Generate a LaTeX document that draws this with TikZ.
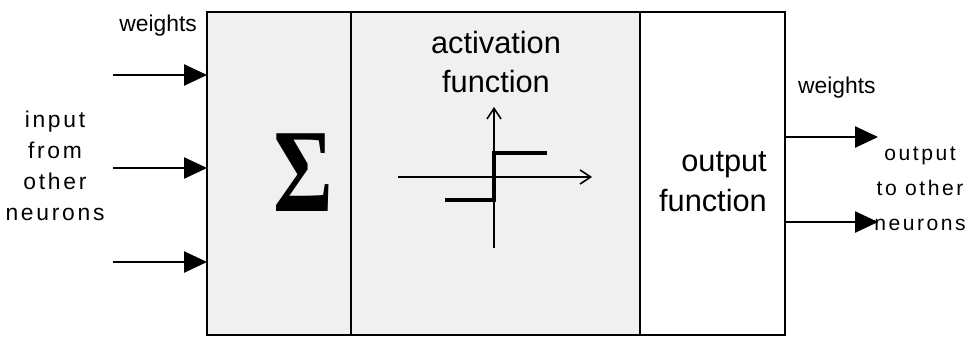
\documentclass[tikz,border=0pt]{standalone}
\usepackage{fontspec}
\setmainfont{Liberation Sans}
\newfontfamily\spacedfont[LetterSpace=12]{Liberation Sans}
\newfontfamily\sigmafont{Liberation Serif}
\usetikzlibrary{arrows.meta}

\begin{document}
\begin{tikzpicture}[
x={(0.02cm,0cm)}, y={(0cm,-0.02cm)},
% #region Picture settings %
panel/.style={draw, line width=1pt, inner sep=0pt, outer sep=0pt, minimum height=6.46cm, anchor=north west},
weightarrow/.style={-{Triangle[length=13pt, width=12pt]}, line width=1pt},
axis/.style={-{Straight Barb[length=6pt, width=8pt]}, line width=0.9pt},
smalltext/.style={font=\fontsize{13}{15}\selectfont},
spacedtext/.style={font=\spacedfont\fontsize{13}{17.6}\selectfont, align=center},
rightspaced/.style={font=\spacedfont\fontsize{12}{20}\selectfont, align=center},
bigtext/.style={font=\fontsize{17.5}{22.7}\selectfont},
% #endregion Picture settings %
]

\useasboundingbox (0,0) rectangle (973,345);

\node[panel, fill=gray!12, minimum width=2.88cm] (sumbox) at (207,12) {};
\node[panel, fill=gray!12, minimum width=5.78cm] (actbox) at (sumbox.north east) {};
\node[panel, fill=white, minimum width=2.9cm] (outbox) at (actbox.north east) {};

\node[smalltext, anchor=base east] (wleft) at (203,31) {weights};
\node[spacedtext] (input) at (55,166) {input\\from\\other\\neurons};
\node[font=\sigmafont\bfseries\fontsize{52}{52}\selectfont, inner sep=0pt, yscale=1.3] (sigma) at (303,173) {Σ};
\node[bigtext, align=center] (acttext) at (496,62) {activation\\function};
\node[bigtext, align=right, anchor=east] (outtext) at (773,182) {output\\function};
\node[smalltext, anchor=base west] (wright) at (792,93) {weights};
\node[rightspaced] (output) at (920,189) {output\\to other\\neurons};

\foreach \y [count=\i] in {75,168,262} {
  \coordinate (in\i) at (113,\y);
  \draw[weightarrow] (in\i) -- (in\i -| sumbox.west);
}
\foreach \y [count=\i] in {137,222} {
  \coordinate (out\i) at (878,\y);
  \draw[weightarrow] (outbox.east |- out\i) -- (out\i);
}

\coordinate (xleft) at (398,177);
\coordinate (xright) at (592,177);
\coordinate (ybottom) at (494,248);
\coordinate (ytop) at (494,107);
\draw[axis] (xleft) -- (xright);
\draw[axis] (ybottom) -- (ytop);
\draw[line width=2.8pt] (445,200) -- (494,200) -- (494,153) -- (547,153);

\end{tikzpicture}
\end{document}
